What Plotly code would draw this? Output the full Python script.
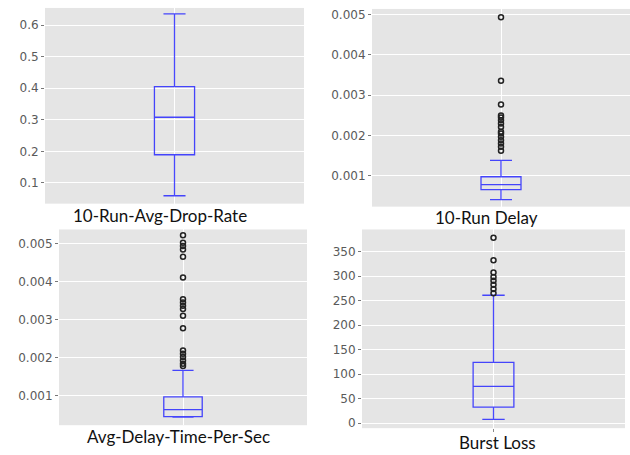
import plotly.graph_objects as go

# ---- data ----
labels = ["10-Run-Avg-Drop-Rate", "10-Run Delay", "Avg-Delay-Time-Per-Sec", "Burst Loss"]

drop_stats = dict(lowerfence=0.059, q1=0.189, median=0.308, q3=0.405, upperfence=0.636)
drop_outliers = []

delay_stats = dict(lowerfence=0.000405, q1=0.000654, median=0.000780, q3=0.000975, upperfence=0.00138)
delay_outliers = [0.004934, 0.003359, 0.002766, 0.002497, 0.002445, 0.002378, 0.002296,
                  0.002212, 0.002089, 0.002049, 0.001965, 0.001883, 0.001800, 0.001717, 0.001618]

avgdelay_stats = dict(lowerfence=0.000425, q1=0.000440, median=0.000624, q3=0.000958, upperfence=0.001660)
avgdelay_outliers = [0.005226, 0.005026, 0.004937, 0.004850, 0.004659, 0.004107, 0.003537,
                     0.003451, 0.003361, 0.003275, 0.003099, 0.002768, 0.002182, 0.002095,
                     0.002008, 0.001919, 0.001833, 0.001772]

burst_stats = dict(lowerfence=8, q1=33, median=75, q3=124, upperfence=261)
burst_outliers = [378.4, 332.4, 307.5, 298.5, 290.4, 282.3, 273.6, 264.9]

y_ranges = [[0.034, 0.6545], [0.000233, 0.00514], [0.000212, 0.005376], [-10.1, 395.2]]
y_ticks = [[0.1, 0.2, 0.3, 0.4, 0.5, 0.6],
           [0.001, 0.002, 0.003, 0.004, 0.005],
           [0.001, 0.002, 0.003, 0.004, 0.005],
           [0, 50, 100, 150, 200, 250, 300, 350]]
y_formats = [".1f", ".3f", ".3f", "d"]

# ---- layout geometry (pixels) ----
W, H = 630, 455
panels_px = [  # x0, x1, ytop, ybottom
    (45, 304, 7, 204),
    (372, 630, 8, 207),
    (59, 307, 230, 427),
    (362, 625, 230, 430),
]
label_px = [(160, 216), (486, 218), (178, 438), (497, 444)]

stats_list = [drop_stats, delay_stats, avgdelay_stats, burst_stats]
outlier_list = [drop_outliers, delay_outliers, avgdelay_outliers, burst_outliers]

BLUE = "rgba(40,40,255,0.85)"
fig = go.Figure()
layout = dict(width=W, height=H, margin=dict(l=0, r=0, t=0, b=0),
              paper_bgcolor="white", showlegend=False, annotations=[])

for i in range(4):
    n = "" if i == 0 else str(i + 1)
    xa, ya = "x" + n, "y" + n
    s = stats_list[i]
    fig.add_trace(go.Box(
        x=[0], q1=[s["q1"]], median=[s["median"]], q3=[s["q3"]],
        lowerfence=[s["lowerfence"]], upperfence=[s["upperfence"]],
        width=0.155, whiskerwidth=0.55, boxpoints=False,
        line=dict(color=BLUE, width=1.3), fillcolor="rgba(0,0,0,0)",
        xaxis=xa, yaxis=ya, hoverinfo="skip"))
    if outlier_list[i]:
        fig.add_trace(go.Scatter(
            x=[0] * len(outlier_list[i]), y=outlier_list[i], mode="markers",
            marker=dict(symbol="circle-open", size=5, color="#222",
                        line=dict(width=1.5, color="#222")),
            xaxis=xa, yaxis=ya, hoverinfo="skip"))
    x0, x1, yt, yb = panels_px[i]
    layout["xaxis" + n] = dict(
        domain=[x0 / W, x1 / W], range=[-0.5, 0.5], anchor=ya,
        showgrid=True, gridcolor="white", gridwidth=1, tickvals=[0],
        showticklabels=False, zeroline=False, showline=False,
        ticks="outside" if i == 3 else "", ticklen=3, tickcolor="#888")
    layout["yaxis" + n] = dict(
        domain=[1 - yb / H, 1 - yt / H], range=y_ranges[i], anchor=xa,
        tickvals=y_ticks[i], tickformat=y_formats[i],
        showgrid=True, gridcolor="white", gridwidth=1, zeroline=False,
        showline=False, ticks="outside", ticklen=3, tickcolor="#777",
        tickfont=dict(family="DejaVu Sans", size=12, color="#5a5a5a"))
    lx, ly = label_px[i]
    layout["annotations"].append(dict(
        x=lx / W, y=1 - ly / H, xref="paper", yref="paper", text=labels[i],
        showarrow=False, xanchor="center", yanchor="middle",
        font=dict(family="Lato", size=17, color="#111")))

layout["plot_bgcolor"] = "#e5e5e5"
fig.update_layout(**layout)
fig.write_html("out.html")
